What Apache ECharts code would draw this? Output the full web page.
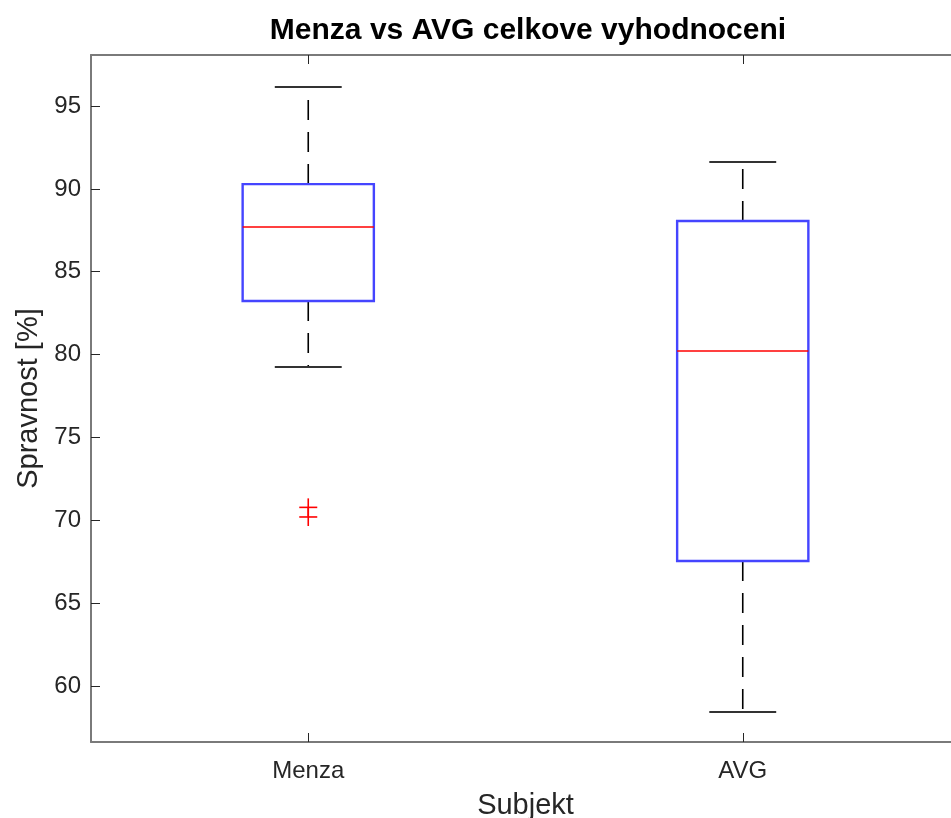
<!DOCTYPE html>
<html>
<head>
<meta charset="utf-8">
<script src="https://cdn.jsdelivr.net/npm/echarts@6/dist/echarts.min.js"></script>
<style>
html,body{margin:0;padding:0;background:#fff;}
#chart{width:951px;height:818px;}
</style>
</head>
<body>
<div id="chart"></div>
<script>
// ---- data ----
const categories = ['Menza', 'AVG'];
const lowerWhisker = [79.25, 58.43];
const q1 = [83.23, 67.54];
const median = [87.70, 80.22];
const q3 = [90.29, 88.06];
const upperWhisker = [96.15, 91.62];
const outlierCategory = [0, 0];
const outlierValue = [70.78, 70.20];
const yTicks = [60, 65, 70, 75, 80, 85, 90, 95];
const yMin = 56.62;
const yMax = 98.08;

const boxData = categories.map((c, i) => [i, lowerWhisker[i], q1[i], median[i], q3[i], upperWhisker[i]]);
const outData = outlierValue.map((v, i) => [outlierCategory[i], v]);

const axisGray = '#7a7a7a';
const textColor = '#262626';
const font = 'Liberation Sans, Arial, Helvetica, sans-serif';

const chart = echarts.init(document.getElementById('chart'), null, {renderer: 'canvas'});

function renderBox(params, api) {
  const x = api.value(0);
  const band = api.size([1, 0])[0];
  const halfBox = band * 0.151;
  const halfCap = band * 0.077;
  const pLow = api.coord([x, api.value(1)]);
  const pQ1 = api.coord([x, api.value(2)]);
  const pMed = api.coord([x, api.value(3)]);
  const pQ3 = api.coord([x, api.value(4)]);
  const pHigh = api.coord([x, api.value(5)]);
  const cx = pMed[0];
  const dash = {stroke: '#000', lineWidth: 1.6, lineDash: [20, 12]};
  return {
    type: 'group',
    children: [
      {type: 'line', shape: {x1: cx, y1: pQ3[1], x2: cx, y2: pHigh[1]}, style: dash},
      {type: 'line', shape: {x1: cx, y1: pQ1[1], x2: cx, y2: pLow[1]}, style: dash},
      {type: 'line', shape: {x1: cx - halfCap, y1: pHigh[1], x2: cx + halfCap, y2: pHigh[1]}, style: {stroke: '#333', lineWidth: 2}},
      {type: 'line', shape: {x1: cx - halfCap, y1: pLow[1], x2: cx + halfCap, y2: pLow[1]}, style: {stroke: '#333', lineWidth: 2}},
      {type: 'rect', shape: {x: cx - halfBox, y: pQ3[1], width: 2 * halfBox, height: pQ1[1] - pQ3[1]},
        style: {fill: 'none', stroke: '#4545ff', lineWidth: 2.4}},
      {type: 'line', shape: {x1: cx - halfBox, y1: pMed[1], x2: cx + halfBox, y2: pMed[1]}, style: {stroke: '#ff0000', lineWidth: 1.6}}
    ]
  };
}

function renderPlus(params, api) {
  const p = api.coord([api.value(0), api.value(1)]);
  const h = 9;
  const st = {stroke: '#ff0000', lineWidth: 1.6};
  return {
    type: 'group',
    children: [
      {type: 'line', shape: {x1: p[0] - h, y1: p[1], x2: p[0] + h, y2: p[1]}, style: st},
      {type: 'line', shape: {x1: p[0], y1: p[1] - h, x2: p[0], y2: p[1] + h}, style: st}
    ]
  };
}

const catAxisBase = {
  type: 'category',
  data: categories,
  boundaryGap: true,
  axisLine: {show: true, lineStyle: {color: axisGray, width: 2}},
  axisTick: {show: true, inside: true, alignWithLabel: true, length: 9, lineStyle: {color: '#262626', width: 1}},
  splitLine: {show: false}
};
const valAxisBase = {
  type: 'value',
  min: yMin,
  max: yMax,
  axisLine: {show: true, lineStyle: {color: axisGray, width: 2}},
  axisTick: {show: true, inside: true, length: 9, customValues: yTicks, lineStyle: {color: '#262626', width: 1}},
  splitLine: {show: false}
};

chart.setOption({
  animation: false,
  backgroundColor: '#ffffff',
  title: {
    text: 'Menza vs AVG celkove vyhodnoceni',
    left: 523, top: 11, textAlign: 'center',
    textStyle: {fontFamily: font, fontSize: 30, fontWeight: 'bold', color: '#000'}
  },
  grid: {left: 91, top: 55, width: 869, height: 687, containLabel: false, outerBoundsMode: 'none'},
  xAxis: [
    Object.assign({}, catAxisBase, {
      position: 'bottom',
      name: 'Subjekt', nameLocation: 'middle', nameGap: 49,
      nameTextStyle: {fontFamily: font, fontSize: 29, color: textColor},
      axisLabel: {show: true, margin: 17, fontFamily: font, fontSize: 24, color: textColor}
    }),
    Object.assign({}, catAxisBase, {position: 'top', axisLabel: {show: false}})
  ],
  yAxis: [
    Object.assign({}, valAxisBase, {
      position: 'left',
      name: 'Spravnost [%]', nameLocation: 'middle', nameGap: 47, nameRotate: 90,
      nameTextStyle: {fontFamily: font, fontSize: 29, color: textColor},
      axisLabel: {show: true, margin: 10, fontFamily: font, fontSize: 24, color: textColor, customValues: yTicks}
    }),
    Object.assign({}, valAxisBase, {position: 'right', axisLabel: {show: false}})
  ],
  series: [
    {type: 'custom', name: 'box', xAxisIndex: 0, yAxisIndex: 0, renderItem: renderBox,
      encode: {x: 0, y: [1, 2, 3, 4, 5]}, data: boxData, clip: false},
    {type: 'custom', name: 'outliers', xAxisIndex: 0, yAxisIndex: 0, renderItem: renderPlus,
      encode: {x: 0, y: 1}, data: outData, clip: false}
  ]
});
</script>
</body>
</html>
